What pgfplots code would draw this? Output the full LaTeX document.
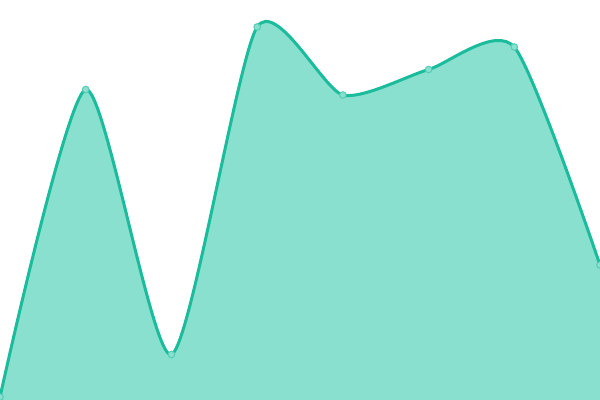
\documentclass[border=0pt]{standalone}
\usepackage{pgfplots}
\pgfplotsset{compat=1.18}
\definecolor{lineC}{RGB}{26,188,156}
\definecolor{fillC}{RGB}{137,224,206}
\begin{document}
\begin{tikzpicture}
\begin{axis}[
  scale only axis,
  width=600bp, height=400bp,
  xmin=0, xmax=7, ymin=0, ymax=400,
  axis lines=none,
  clip=true,
  clip marker paths=true,
]
\addplot[draw=none, fill=fillC, smooth, tension=0.4]
  coordinates {(0,3) (1,310.5) (2,45.5) (3,373) (4,305) (5,330.5) (6,353) (7,135)} \closedcycle;
\addplot[lineC, line width=3bp, smooth, tension=0.4,
  mark=*, mark size=3.3bp,
  mark options={fill=fillC, draw=lineC!75!white, line width=1bp}]
  coordinates {(0,3) (1,310.5) (2,45.5) (3,373) (4,305) (5,330.5) (6,353) (7,135)};
\end{axis}
\end{tikzpicture}
\end{document}
